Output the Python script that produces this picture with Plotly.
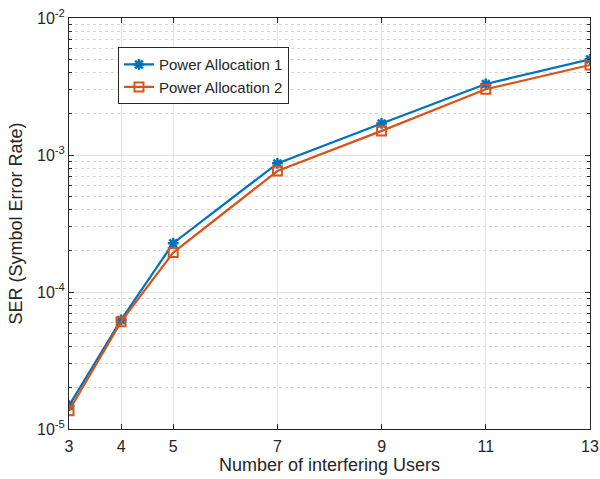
import plotly.graph_objects as go

usuarios = [3, 4, 5, 7, 9, 11, 13]
ser_pa1 = [1.48e-5, 6.25e-5, 2.27e-4, 8.69e-4, 1.70e-3, 3.30e-3, 4.99e-3]
ser_pa2 = [1.36e-5, 6.07e-5, 1.94e-4, 7.64e-4, 1.50e-3, 3.02e-3, 4.54e-3]
y_ticks = [1e-5, 1e-4, 1e-3, 1e-2]
y_ticktext = ["10<sup>-5</sup>", "10<sup>-4</sup>", "10<sup>-3</sup>", "10<sup>-2</sup>"]

AZUL = "#0072BD"
LARANJA = "#D95319"
EIXO = "#262626"

fig = go.Figure()
fig.add_trace(go.Scatter(
    x=usuarios, y=ser_pa1, name="Power Allocation 1", mode="lines+markers",
    line=dict(color=AZUL, width=2.2),
    marker=dict(symbol="asterisk-open", size=9, color=AZUL, line=dict(color=AZUL, width=2.5)),
))
fig.add_trace(go.Scatter(
    x=usuarios, y=ser_pa2, name="Power Allocation 2", mode="lines+markers",
    line=dict(color=LARANJA, width=2.2),
    marker=dict(symbol="square-open", size=9, color=LARANJA, line=dict(color=LARANJA, width=2)),
))

fig.update_layout(
    width=600, height=479,
    margin=dict(l=69, r=10, t=18, b=50),
    plot_bgcolor="white", paper_bgcolor="white",
    font=dict(family="Liberation Sans, Arial, sans-serif", size=16, color=EIXO),
    showlegend=True,
    legend=dict(
        x=0.094, y=0.929, xanchor="left", yanchor="top",
        bgcolor="white", bordercolor=EIXO, borderwidth=1,
        font=dict(size=15), tracegroupgap=0,
    ),
)

fig.update_xaxes(
    range=[3, 13], tickvals=usuarios, automargin=False, ticklabelstandoff=3,
    title=dict(text="Number of interfering Users", font=dict(size=18), standoff=3),
    showline=True, linecolor=EIXO, linewidth=1, mirror="ticks",
    ticks="inside", ticklen=5, tickcolor=EIXO,
    showgrid=True, gridcolor="#E3E3E3", gridwidth=1, zeroline=False,
)
fig.update_yaxes(
    type="log", range=[-5, -2], automargin=False,
    tickvals=y_ticks, ticktext=y_ticktext,
    title=dict(text="SER (Symbol Error Rate)", font=dict(size=18), standoff=9),
    showline=True, linecolor=EIXO, linewidth=1, mirror="ticks",
    ticks="inside", ticklen=5, tickcolor=EIXO,
    showgrid=True, gridcolor="#E3E3E3", gridwidth=1, zeroline=False,
    minor=dict(
        tickvals=[m * 10.0 ** e for e in (-5, -4, -3) for m in range(2, 10)],
        ticks="inside", ticklen=3, tickcolor=EIXO,
        showgrid=True, gridcolor="#D6D6D6", griddash="dot", gridwidth=1,
    ),
)

# tira a margem padrão do body para a figura ocupar a janela toda
fig.write_html(
    "out.html",
    config={"displayModeBar": False},
    post_script="document.body.style.margin='0';",
)
